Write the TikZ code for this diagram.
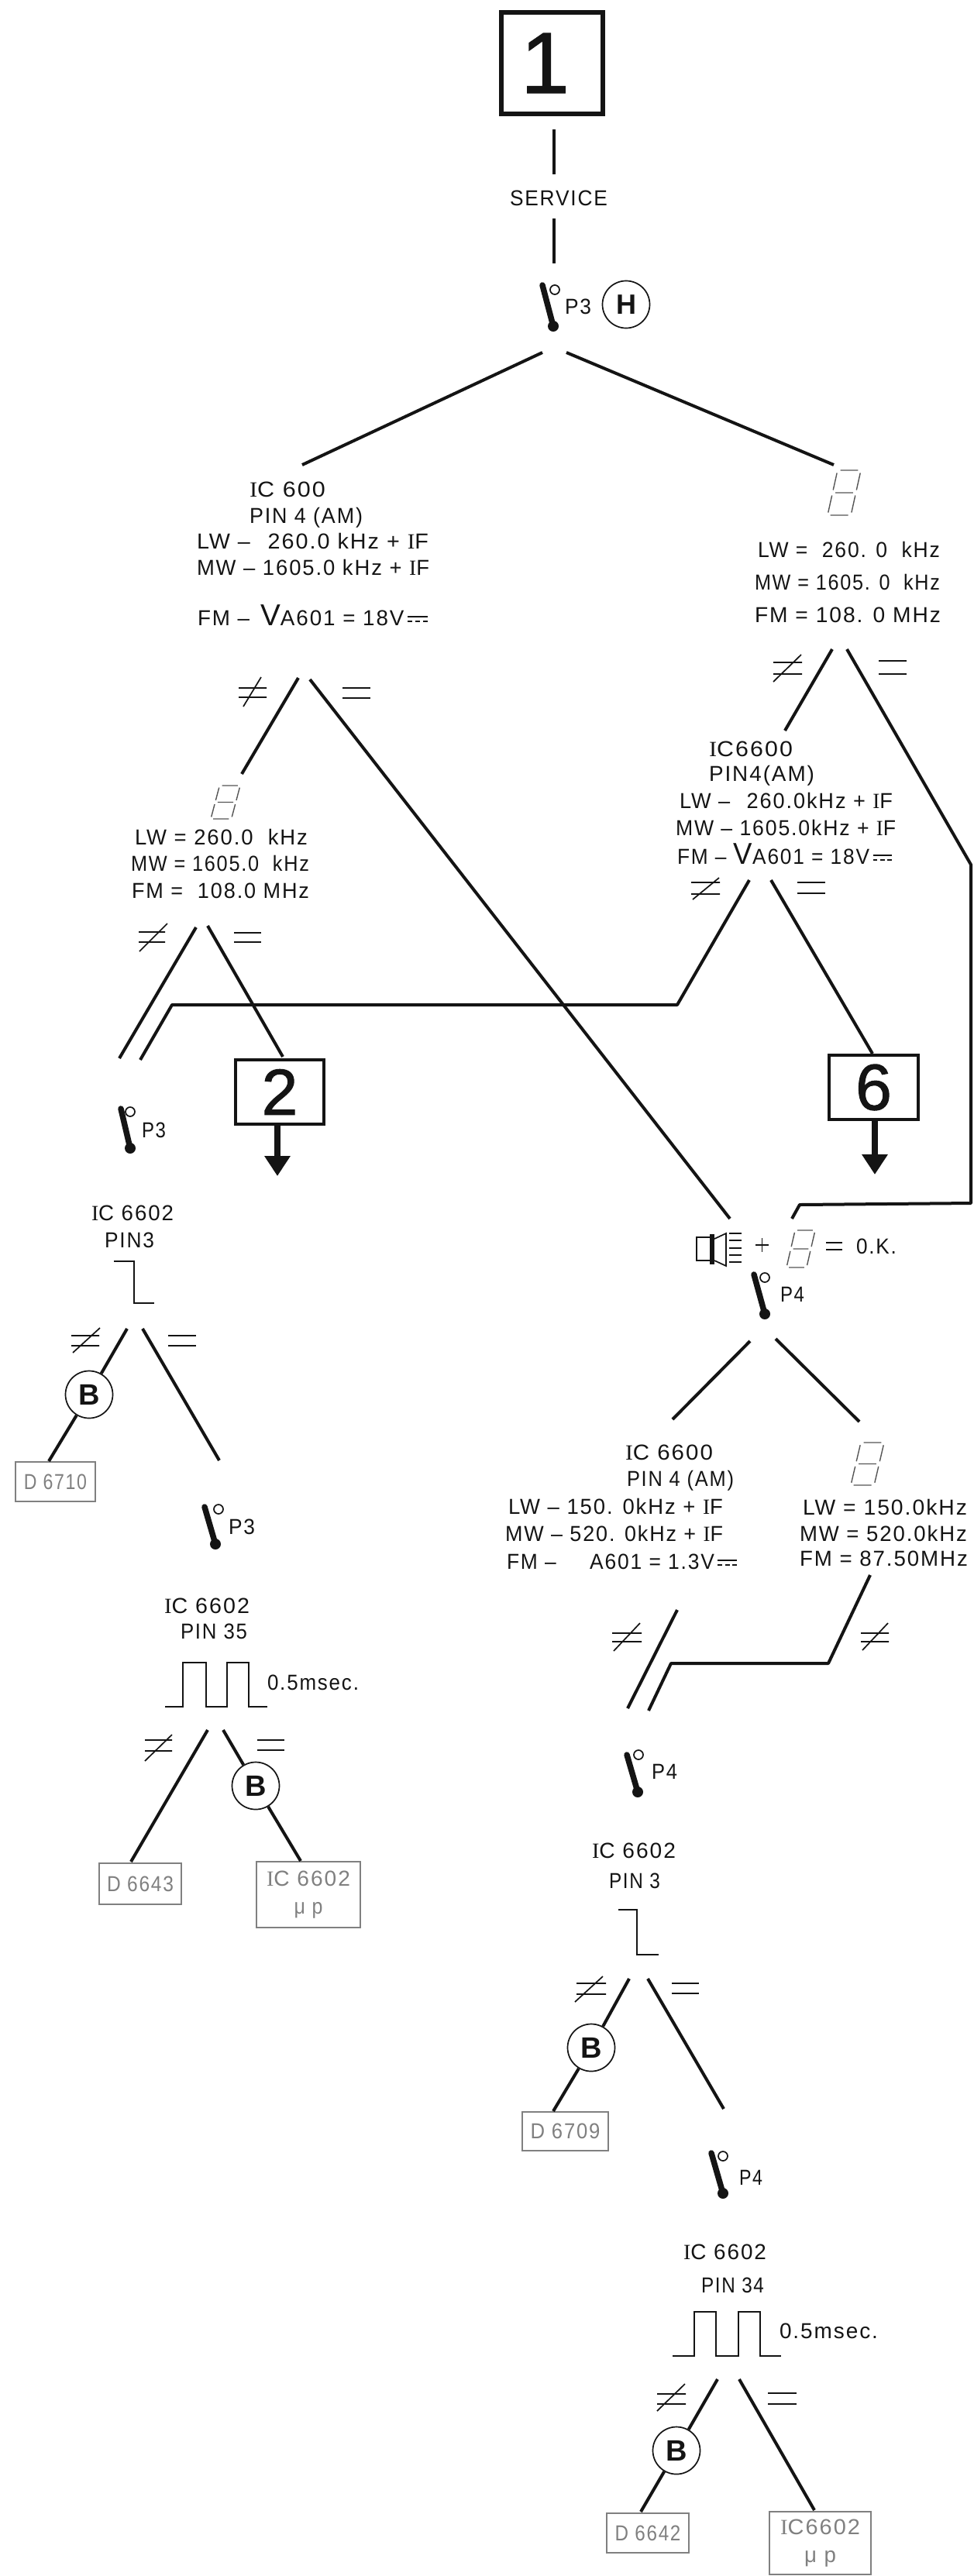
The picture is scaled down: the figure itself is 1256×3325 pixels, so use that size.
\documentclass[tikz,border=0pt]{standalone}
\usepackage{graphicx}
\usepackage{fontspec}
\setmainfont[LetterSpace=7]{Liberation Sans}
\newfontfamily\serfont[LetterSpace=7]{Liberation Serif}
\newfontfamily\fatfont[FakeBold=1.2]{Liberation Sans}
\usetikzlibrary{arrows.meta}
\definecolor{ink}{HTML}{141414}
\definecolor{faint}{HTML}{808080}
\definecolor{segcol}{HTML}{555555}
\newcommand{\Is}{{\serfont I}}
\newcommand{\bigV}{{\fontsize{39}{39}\selectfont V}}
\newcommand{\dcsym}{\makebox[26pt][l]{\raisebox{10pt}{\rule{26pt}{1.6pt}}\hspace{-26pt}\raisebox{4pt}{\rule{6pt}{1.6pt}\hspace{4pt}\rule{6pt}{1.6pt}\hspace{4pt}\rule{6pt}{1.6pt}}}}
% name, x left, x right, baseline, text
\newcommand{\tline}[5]{\pgfmathsetmacro{\tlw}{#3-#2}\node[txt] (#1) at (#2,#4) {\resizebox{\tlw pt}{\height}{#5}};}
% top x,y  bottom x,y  circle x,y
\newcommand{\swtch}[6]{\draw[swbar] (#1,#2) -- (#3,#4); \fill[ink] (#3,#4) circle (7pt); \draw[thinl,fill=white] (#5,#6) circle (6pt);}
\newcommand{\neqsym}[8]{\draw[thinl] (#1,#3) -- (#2,#3) (#1,#4) -- (#2,#4) (#5,#6) -- (#7,#8);}
\newcommand{\eqsym}[4]{\draw[thinl] (#1,#3) -- (#2,#3) (#1,#4) -- (#2,#4);}
% left, top, width, height of a slanted seven segment display
\newcommand{\segdisp}[4]{\pgfmathsetmacro{\sk}{0.3*#3}\pgfmathsetmacro{\uw}{#3-\sk}
\begin{scope}[shift={(#1+\sk,#2)},x={(\uw pt,0pt)},y={(-\sk pt,-#4 pt)},segl]
\draw (0.12,0) -- (0.88,0) (0.12,0.5) -- (0.88,0.5) (0.12,1) -- (0.88,1)
 (0,0.06) -- (0,0.44) (1,0.06) -- (1,0.44) (0,0.56) -- (0,0.94) (1,0.56) -- (1,0.94);
\end{scope}}
\tikzset{
 txt/.style={anchor=base west,inner sep=0pt,outer sep=0pt,text=ink,font=\fontsize{28}{32}\selectfont},
 conn/.style={line width=4pt,draw=ink},
 thinl/.style={line width=1.7pt,draw=ink},
 segl/.style={line width=1.4pt,draw=segcol},
 swbar/.style={line width=7.5pt,draw=ink,line cap=round},
 bigbox/.style={draw=ink,rectangle,inner sep=0pt,text=ink},
 greybox/.style={draw=faint,line width=1.8pt,rectangle,inner sep=0pt,text=faint,align=center,font=\fontsize{28}{36}\selectfont},
 letter/.style={draw=ink,line width=1.7pt,circle,inner sep=0pt,minimum size=61pt,fill=white,text=ink,font=\fontsize{38}{38}\selectfont\bfseries},
 outarrow/.style={line width=8pt,draw=ink,-{Triangle[length=26pt,width=32pt]}},
}
\begin{document}
\begin{tikzpicture}[x=1pt,y=-1pt]
\useasboundingbox (0,0) rectangle (1256,3325);
\fill[white] (0,0) rectangle (1256,3325);

% ---- top
\node[bigbox,line width=6pt,minimum width=131pt,minimum height=131pt,font=\fatfont\fontsize{112}{112}\selectfont] (box1) at (712.5,81.5) {\hspace{-18pt}1};
\tline{service}{658}{784}{265}{SERVICE}
\coordinate (t1) at (715,167); \coordinate (t2) at (715,225);
\coordinate (t3) at (715,282); \coordinate (t4) at (715,340);
\draw[conn] (t1) -- (t2); \draw[conn] (t3) -- (t4);
\swtch{700}{368}{714}{421}{716}{374}
\tline{p3a}{729}{763}{405}{P3}
\node[letter,font=\fontsize{36}{36}\selectfont\bfseries] (H) at (808,393) {H};

% ---- first split
\coordinate (s1a) at (700,455); \coordinate (s1b) at (390,600);
\coordinate (s2a) at (731,455); \coordinate (s2b) at (1076,600);
\draw[conn] (s1a) -- (s1b); \draw[conn] (s2a) -- (s2b);

% ---- left block A
\tline{a1}{322}{420}{641}{\Is C 600}
\tline{a2}{322}{468}{675}{PIN 4 (AM)}
\tline{a3}{254}{553}{708}{LW –\hspace{22pt}260.0 kHz + \Is F}
\tline{a4}{254}{554}{742}{MW – 1605.0 kHz + \Is F}
\tline{a5}{255}{552}{807}{FM –\hspace{14pt}\bigV A601 = 18V\,\dcsym}
\neqsym{308}{344}{888}{900}{314}{912}{337}{874}
\eqsym{442}{478}{888}{901}
\coordinate (b1a) at (385,875); \coordinate (b1b) at (312,999);
\coordinate (b2a) at (400,877); \coordinate (b2b) at (942,1573);
\draw[conn] (b1a) -- (b1b); \draw[conn] (b2a) -- (b2b);

% ---- left block B
\segdisp{272}{1014}{38}{43}
\tline{b1}{174}{397}{1090}{LW = 260.0 \ kHz}
\tline{b2}{169}{399}{1124}{MW = 1605.0 \ kHz}
\tline{b3}{170}{399}{1159}{FM = \ 108.0 MHz}
\neqsym{179}{213}{1203}{1216}{180}{1228}{216}{1192}
\eqsym{302}{337}{1204}{1216}
\coordinate (c1a) at (253,1197); \coordinate (c1b) at (154,1366);
\coordinate (c2a) at (268,1195);
\coordinate (c3a) at (967,1136); \coordinate (c3k1) at (874,1297); \coordinate (c3k2) at (222,1297); \coordinate (c3b) at (181,1368);
\draw[conn] (c1a) -- (c1b);
\draw[conn,line join=round] (c3a) -- (c3k1) -- (c3k2) -- (c3b);

% ---- box 2
\node[bigbox,line width=4pt,minimum width=114pt,minimum height=83pt,font=\fatfont\fontsize{84}{84}\selectfont] (box2) at (361,1409.5) {2};
\coordinate (c2b) at (365,1364);
\draw[conn] (c2a) -- (c2b);
\coordinate (ar2a) at (358,1452); \coordinate (ar2b) at (358,1518);
\draw[outarrow] (ar2a) -- (ar2b);
\swtch{156}{1431}{168}{1482}{168}{1435}
\tline{p3b}{183}{214}{1468}{P3}

% ---- left lower
\tline{d1}{118}{224}{1575}{\Is C 6602}
\tline{d2}{135}{199}{1610}{PIN3}
\draw[thinl] (147,1628) -- (173,1628) -- (173,1682) -- (199,1682);
\neqsym{92}{128}{1724}{1737}{94}{1746}{129}{1714}
\eqsym{217}{253}{1724}{1737}
\node[letter] (B1) at (115,1800) {B};
\node[greybox,minimum width=103pt,minimum height=51pt] (d6710) at (71.5,1912.5) {\resizebox{81pt}{\height}{D 6710}};
\coordinate (e1a) at (164,1715); \coordinate (e1b) at (63,1886);
\coordinate (e2a) at (184,1715); \coordinate (e2b) at (283,1885);
\draw[conn] (e1a) -- (B1) -- (e1b);
\draw[conn] (e2a) -- (e2b);
\swtch{264}{1945}{278}{1993}{282}{1948}
\tline{p3c}{295}{329}{1980}{P3}
\tline{f1}{212}{322}{2082}{\Is C 6602}
\tline{f2}{233}{319}{2115}{PIN 35}
\draw[thinl] (213,2203) -- (236,2203) -- (236,2146) -- (266,2146) -- (266,2203) -- (293,2203) -- (293,2146) -- (321,2146) -- (321,2203) -- (345,2203);
\tline{f3}{345}{463}{2181}{0.5msec.}
\neqsym{187}{222}{2246}{2260}{187}{2273}{222}{2239}
\eqsym{332}{367}{2246}{2259}
\node[letter] (B2) at (330,2305) {B};
\node[greybox,minimum width=106pt,minimum height=53pt] (d6643) at (181,2431.5) {\resizebox{86pt}{\height}{D 6643}};
\node[greybox,minimum width=134pt,minimum height=85pt] (icl) at (398,2445.5) {\resizebox{108pt}{\height}{\Is C 6602}\\\resizebox{37pt}{\height}{μ p}};
\coordinate (g1a) at (268,2233); \coordinate (g1b) at (169,2403);
\coordinate (g2a) at (288,2233); \coordinate (g2b) at (388,2402);
\draw[conn] (g1a) -- (g1b);
\draw[conn] (g2a) -- (B2) -- (g2b);

% ---- right block C
\segdisp{1068}{607}{43}{58}
\tline{h1}{978}{1213}{719}{LW = \ 260. 0 \ kHz}
\tline{h2}{974}{1213}{761}{MW = 1605. 0 \ kHz}
\tline{h3}{974}{1214}{803}{FM = 108. 0 MHz}
\neqsym{998}{1035}{855}{870}{998}{880}{1034}{845}
\eqsym{1134}{1170}{853}{870}
\coordinate (i1a) at (1074,838); \coordinate (i1b) at (1013,943);
\coordinate (i2a) at (1093,838); \coordinate (i2k1) at (1253,1116); \coordinate (i2k2) at (1253,1553); \coordinate (i2k3) at (1032,1555); \coordinate (i2b) at (1022,1573);
\draw[conn] (i1a) -- (i1b);
\draw[conn,line join=round] (i2a) -- (i2k1) -- (i2k2) -- (i2k3) -- (i2b);

% ---- block D
\tline{j1}{915}{1023}{976}{\Is C6600}
\tline{j2}{915}{1051}{1008}{PIN4(AM)}
\tline{j3}{877}{1152}{1043}{LW –\hspace{22pt}260.0kHz + \Is F}
\tline{j4}{872}{1156}{1078}{MW – 1605.0kHz + \Is F}
\tline{j5}{874}{1151}{1115}{FM – \bigV A601 = 18V\,\dcsym}
\neqsym{892}{929}{1139}{1154}{894}{1161}{928}{1133}
\eqsym{1029}{1065}{1139}{1153}
\coordinate (k1a) at (995,1136); \coordinate (k1b) at (1126,1360);
\node[bigbox,line width=4pt,minimum width=115pt,minimum height=83pt,font=\fatfont\fontsize{84}{84}\selectfont] (box6) at (1127.5,1403.5) {6};
\draw[conn] (k1a) -- (k1b);
\coordinate (ar6a) at (1129,1446); \coordinate (ar6b) at (1129,1516);
\draw[outarrow] (ar6a) -- (ar6b);

% ---- speaker + display = O.K.
\draw[thinl] (918,1597) -- (899,1597) -- (899,1627) -- (918,1627);
\draw[line width=6pt,draw=ink] (919,1593) -- (919,1632);
\draw[thinl] (922,1599) -- (937,1592) -- (937,1634) -- (922,1627);
\draw[thinl] (941,1592) -- (957,1592) (941,1601) -- (957,1601) (941,1611) -- (957,1611) (941,1620) -- (957,1620) (941,1629) -- (957,1629);
\draw[thinl] (975,1607) -- (992,1607) (983.5,1598) -- (983.5,1616);
\segdisp{1015}{1588}{37}{48}
\draw[line width=2.4pt,draw=ink] (1066,1604) -- (1087,1604) (1066,1613) -- (1087,1613);
\tline{ok}{1105}{1157}{1618}{0.K.}
\swtch{973}{1645}{987}{1696}{987}{1649}
\tline{p4a}{1007}{1038}{1680}{P4}

% ---- second split
\coordinate (m1a) at (968,1731); \coordinate (m1b) at (868,1832);
\coordinate (m2a) at (1001,1728); \coordinate (m2b) at (1109,1835);
\draw[conn] (m1a) -- (m1b); \draw[conn] (m2a) -- (m2b);

% ---- block E
\tline{n1}{807}{920}{1884}{\Is C 6600}
\tline{n2}{809}{947}{1918}{PIN 4 (AM)}
\tline{n3}{656}{933}{1954}{LW – 150. 0kHz + \Is F}
\tline{n4}{652}{933}{1989}{MW – 520. 0kHz + \Is F}
\tline{n5}{654}{951}{2025}{FM –\hspace{46pt}A601 = 1.3V\,\dcsym}
\neqsym{790}{828}{2108}{2119}{792}{2131}{826}{2095}
\coordinate (o1a) at (874,2078); \coordinate (o1b) at (810,2205);
\draw[conn] (o1a) -- (o1b);

% ---- block F
\segdisp{1098}{1862}{43}{55}
\tline{q1}{1036}{1248}{1955}{LW = 150.0kHz}
\tline{q2}{1032}{1248}{1989}{MW = 520.0kHz}
\tline{q3}{1032}{1249}{2021}{FM = 87.50MHz}
\neqsym{1111}{1147}{2108}{2119}{1113}{2130}{1146}{2095}
\coordinate (r1a) at (1123,2033); \coordinate (r1k1) at (1069,2147); \coordinate (r1k2) at (866,2147); \coordinate (r1b) at (837,2208);
\draw[conn,line join=round] (r1a) -- (r1k1) -- (r1k2) -- (r1b);

% ---- right lower
\swtch{809}{2265}{823}{2313}{824}{2265}
\tline{p4b}{841}{874}{2296}{P4}
\tline{u1}{764}{872}{2398}{\Is C 6602}
\tline{u2}{786}{852}{2437}{PIN 3}
\draw[thinl] (798,2465) -- (822,2465) -- (822,2523) -- (850,2523);
\neqsym{744}{782}{2560}{2574}{742}{2584}{778}{2551}
\eqsym{867}{902}{2560}{2573}
\node[letter] (B3) at (763,2643) {B};
\node[greybox,minimum width=111pt,minimum height=50pt] (d6709) at (729.5,2751) {\resizebox{90pt}{\height}{D 6709}};
\coordinate (v1a) at (812,2554); \coordinate (v1b) at (714,2725);
\coordinate (v2a) at (836,2554); \coordinate (v2b) at (934,2722);
\draw[conn] (v1a) -- (B3) -- (v1b);
\draw[conn] (v2a) -- (v2b);
\swtch{918}{2779}{933}{2831}{933}{2783}
\tline{p4c}{954}{984}{2820}{P4}
\tline{w1}{882}{989}{2916}{\Is C 6602}
\tline{w2}{905}{986}{2959}{PIN 34}
\draw[thinl] (868,3041) -- (896,3041) -- (896,2984) -- (924,2984) -- (924,3041) -- (953,3041) -- (953,2984) -- (981,2984) -- (981,3041) -- (1008,3041);
\tline{w3}{1006}{1133}{3018}{0.5msec.}
\neqsym{848}{885}{3090}{3103}{848}{3112}{884}{3077}
\eqsym{991}{1028}{3089}{3103}
\node[letter] (B4) at (873,3163) {B};
\node[greybox,minimum width=106pt,minimum height=51pt] (d6642) at (836,3269.5) {\resizebox{85pt}{\height}{D 6642}};
\node[greybox,minimum width=131pt,minimum height=81pt] (icr) at (1058.5,3282.5) {\resizebox{103pt}{\height}{\Is C6602}\\\resizebox{41pt}{\height}{μ p}};
\coordinate (x1a) at (926,3071); \coordinate (x1b) at (827,3242);
\coordinate (x2a) at (954,3071); \coordinate (x2b) at (1051,3240);
\draw[conn] (x1a) -- (B4) -- (x1b);
\draw[conn] (x2a) -- (x2b);
\end{tikzpicture}
\end{document}
